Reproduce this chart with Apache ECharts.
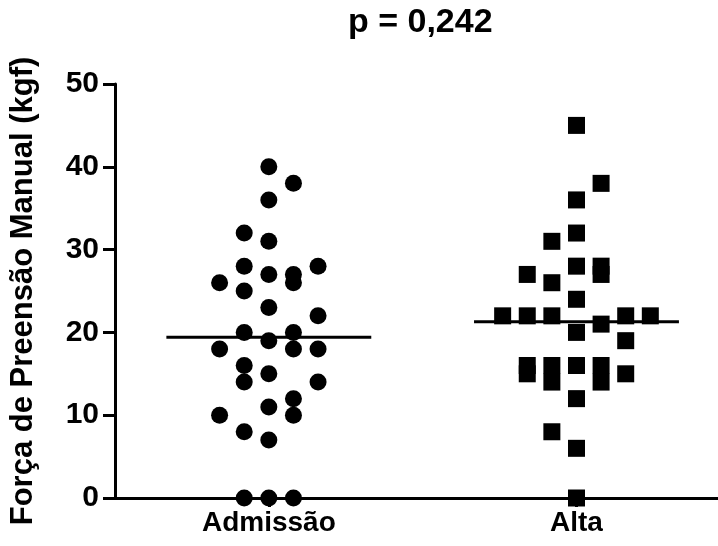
<!DOCTYPE html>
<html>
<head>
<meta charset="utf-8">
<script src="https://cdn.jsdelivr.net/npm/echarts@6/dist/echarts.min.js"></script>
<style>html,body{margin:0;padding:0;background:#fff}#c{width:718px;height:546px}</style>
</head>
<body>
<div id="c"></div>
<script>
var categories = ['Admissão', 'Alta'];
var admissaoValues = [40, 38, 36, 32, 31, 28, 28, 27, 27, 26, 26, 25, 23, 22, 20, 20, 19, 18, 18, 18, 16, 15, 14, 14, 12, 11, 10, 10, 8, 7, 0, 0, 0];
var admissaoSlots  = [0, 1, 0, -1, 0, -1, 2, 0, 1, 1, -2, -1, 0, 2, -1, 1, 0, -2, 1, 2, -1, 0, -1, 2, 1, 0, -2, 1, -1, 0, -1, 0, 1];
var altaValues = [45, 38, 36, 32, 31, 28, 27, 28, 27, 26, 24, 22, 22, 22, 22, 22, 21, 20, 19, 16, 15, 16, 14, 16, 16, 14, 15, 12, 8, 6, 0];
var altaSlots  = [0, 1, 0, 0, -1, 1, 1, 0, -2, -1, 0, -3, -2, -1, 2, 3, 1, 0, 2, -2, -2, -1, -1, 0, 1, 1, 2, 0, -1, 0, 0];
var meanValues = [19.4, 21.3];
var yTicks = [0, 10, 20, 30, 40, 50];
var titleText = 'p = 0,242';
var yAxisName = 'Força de Preensão Manual (kgf)';

var SLOT = 0.08, HALF = 0.333;
function pts(vals, slots, g) {
  return vals.map(function (v, i) { return [g + slots[i] * SLOT, v]; });
}
var font = 'Liberation Sans, Arial, sans-serif';
var chart = echarts.init(document.getElementById('c'), null, {renderer: 'canvas'});
chart.setOption({
  animation: false,
  backgroundColor: '#fff',
  title: {
    text: titleText, left: 343, top: 1,
    textStyle: {fontFamily: font, fontWeight: 'bold', fontSize: 34, color: '#000'}
  },
  grid: {left: 112, right: 0, top: 84, bottom: 48, containLabel: false},
  xAxis: {
    type: 'value', min: -0.5, max: 1.46,
    axisLine: {show: true, onZero: false, lineStyle: {color: '#000', width: 3}},
    axisTick: {show: true, inside: false, length: 9, lineStyle: {color: '#000', width: 3}, customValues: [0, 1]},
    axisLabel: {
      show: true, customValues: [0, 1], margin: 11,
      formatter: function (v) { return categories[Math.round(v)]; },
      fontFamily: font, fontWeight: 'bold', fontSize: 28, color: '#000'
    },
    splitLine: {show: false}
  },
  yAxis: {
    type: 'value', min: yTicks[0], max: yTicks[yTicks.length - 1], interval: 10,
    name: yAxisName, nameLocation: 'middle', nameRotate: 90, nameGap: 76,
    nameTextStyle: {fontFamily: font, fontWeight: 'bold', fontSize: 31, color: '#000'},
    axisLine: {show: true, onZero: false, lineStyle: {color: '#000', width: 3}},
    axisTick: {show: true, inside: false, length: 12, lineStyle: {color: '#000', width: 3}},
    axisLabel: {fontFamily: font, fontWeight: 'bold', fontSize: 30, color: '#000', margin: 16},
    splitLine: {show: false}
  },
  series: [
    {type: 'scatter', symbol: 'circle', symbolSize: 17, itemStyle: {color: '#000', opacity: 1},
     data: pts(admissaoValues, admissaoSlots, 0)},
    {type: 'scatter', symbol: 'rect', symbolSize: 17, itemStyle: {color: '#000', opacity: 1},
     data: pts(altaValues, altaSlots, 1)},
    {type: 'line', symbol: 'none', lineStyle: {color: '#000', width: 3},
     data: [[-HALF, meanValues[0]], [HALF, meanValues[0]]]},
    {type: 'line', symbol: 'none', lineStyle: {color: '#000', width: 3},
     data: [[1 - HALF, meanValues[1]], [1 + HALF, meanValues[1]]]}
  ]
});
</script>
</body>
</html>
